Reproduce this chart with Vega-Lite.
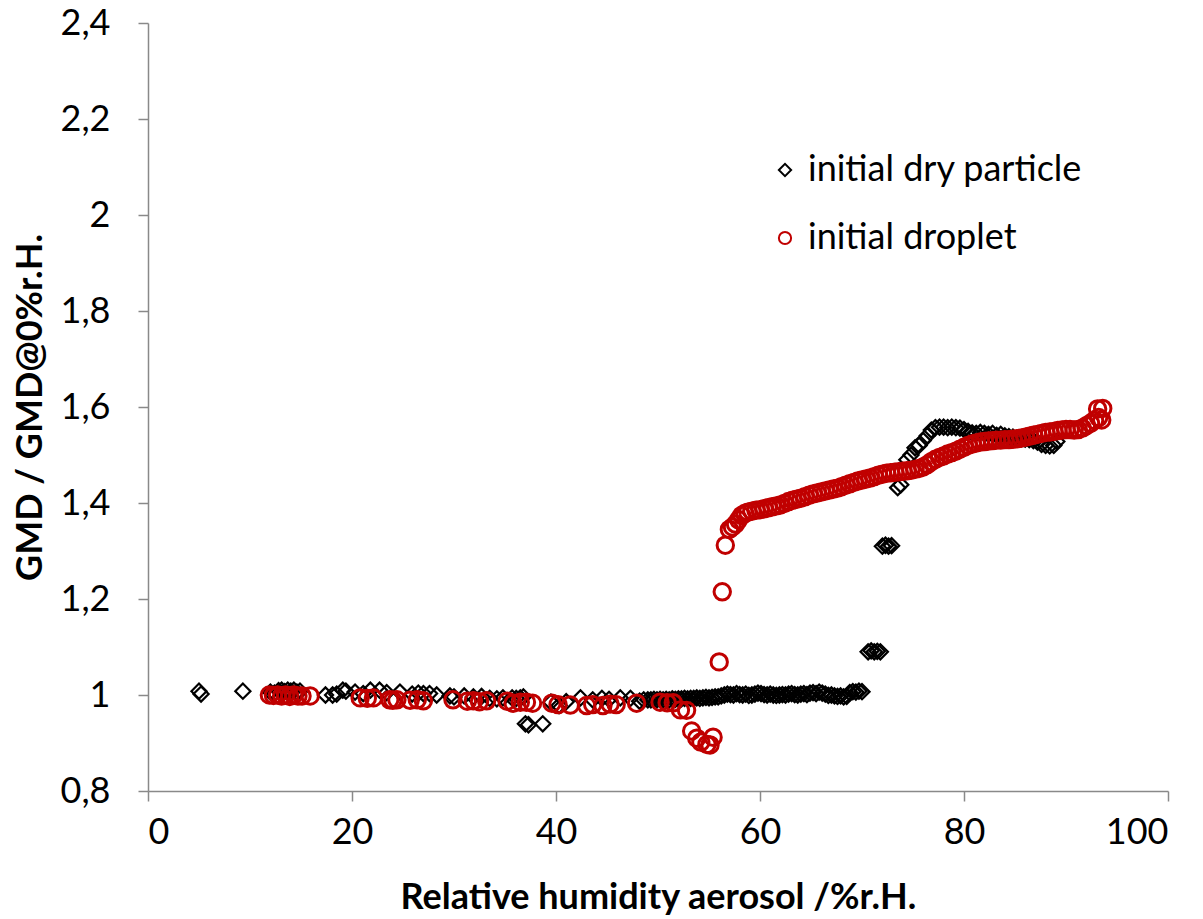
{
  "$schema": "https://vega.github.io/schema/vega-lite/v6.json",
  "width": 1020,
  "height": 768,
  "autosize": "none",
  "padding": {"left": 148, "top": 23, "right": 35, "bottom": 128},
  "background": "white",
  "config": {
    "view": {"stroke": null},
    "font": "Lato",
    "axis": {"grid": false, "domainColor": "#898989", "domainWidth": 1.5, "tickColor": "#898989", "tickWidth": 1.5, "tickSize": 10, "labelFont": "Lato", "labelFontSize": 36, "labelColor": "#000000", "titleFont": "Lato", "titleFontSize": 36, "titleFontWeight": "bold", "titleColor": "#000000"}
  },
  "datasets": {
    "dry": [
      [5.0,1.008],[5.2,1.002],[9.3,1.008],[12.0,1.006],[12.4,1.004],[12.8,1.009],[13.1,1.01],[13.4,1.007],[13.7,1.01],[14.0,1.008],[14.3,1.01],[14.6,1.006],[14.9,1.008],
      [17.4,1.0],[18.1,1.0],[18.5,1.002],[19.1,1.01],[19.4,1.008],[20.3,1.006],[21.1,1.003],[21.8,1.01],[22.7,1.01],[23.4,1.005],[24.7,1.006],[25.9,1.002],[26.5,1.004],[27.0,1.003],[27.6,1.003],[28.3,1.0],[29.6,0.998],[30.0,0.996],[31.0,0.998],[31.9,0.996],[32.7,0.997],[33.5,0.993],[34.2,0.992],[34.8,0.994],[35.7,0.994],[36.1,0.993],[36.5,0.994],[36.8,0.996],
      [37.0,0.94],[37.3,0.938],[38.7,0.94],[39.5,0.985],[40.3,0.978],[41.0,0.986],[42.4,0.994],[43.6,0.99],[44.5,0.993],[45.2,0.991],[46.3,0.994],[47.3,0.993],[48.2,0.987],[48.6,0.99],
      [49.0,0.99],[49.3,0.99],[49.6,0.991],[49.9,0.99],[50.2,0.991],[50.5,0.99],[50.8,0.991],[51.1,0.99],[51.4,0.992],[51.7,0.991],[52.0,0.992],[52.3,0.992],[52.6,0.993],[52.9,0.992],[53.2,0.993],[53.5,0.993],[53.8,0.994],[54.1,0.993],[54.4,0.994],[54.7,0.995],[55.0,0.994],[55.3,0.995],[55.6,0.996],[55.9,0.996],[56.2,0.998],[56.5,1.0],[56.8,1.002],[57.1,1.001],[57.4,1.0],[57.7,1.003],[58.0,1.001],[58.3,1.0],[58.6,1.002],[58.9,0.999],[59.2,1.0],[59.5,1.002],[59.8,1.004],[60.1,1.003],[60.4,1.001],[60.7,1.0],[61.0,1.002],[61.3,1.0],[61.6,0.999],[61.9,1.0],[62.2,1.001],[62.5,1.0],[62.8,1.002],[63.1,1.003],[63.4,1.001],[63.7,1.0],[64.0,1.002],[64.3,1.003],[64.6,1.001],[64.9,1.004],[65.2,1.005],[65.5,1.003],[65.8,1.006],[66.1,1.004],[66.4,1.002],[66.7,0.999],[67.0,1.0],[67.3,0.998],[67.6,0.997],[67.9,0.998],[68.2,0.996],[68.5,0.997],[68.8,1.005],[69.1,1.007],[69.4,1.006],[69.7,1.008],[70.0,1.007],
      [70.6,1.09],[70.9,1.092],[71.2,1.09],[71.5,1.091],[71.8,1.09],[72.0,1.31],[72.3,1.312],[72.6,1.31],[72.9,1.311],
      [73.5,1.432],[73.8,1.438],[74.4,1.49],[74.8,1.5],[75.2,1.515],[75.6,1.52],[76.0,1.53],[76.4,1.54],[76.8,1.552],[77.2,1.557],[77.6,1.558],[78.0,1.558],[78.4,1.557],[78.8,1.558],[79.2,1.557],[79.6,1.556],[80.0,1.553],[80.4,1.549],[80.8,1.546],[81.2,1.545],[81.6,1.547],[82.0,1.545],[82.4,1.543],[82.8,1.545],[83.2,1.541],[83.6,1.543],[84.0,1.54],[84.4,1.538],[84.8,1.537],[85.2,1.535],[85.6,1.534],[86.0,1.533],[86.4,1.532],[86.8,1.53],[87.2,1.527],[87.6,1.522],[88.0,1.52],[88.4,1.519],[88.8,1.52],[89.1,1.528]
    ],
    "drop": [
      [11.9,1.0],[12.3,0.999],[12.7,1.0],[13.1,0.998],[13.5,1.0],[13.9,0.997],[14.3,1.0],[14.7,0.998],[15.1,0.998],[15.9,0.998],[20.8,0.994],[21.5,0.993],[22.1,0.994],[23.7,0.99],[24.0,0.989],[24.4,0.99],[25.7,0.989],[26.4,0.99],[27.0,0.988],[29.9,0.99],[31.3,0.987],[31.9,0.988],[32.5,0.986],[33.2,0.988],[35.2,0.987],[35.8,0.983],[36.5,0.985],[37.1,0.985],[37.7,0.983],[39.6,0.983],[40.2,0.98],[41.4,0.979],[43.0,0.978],[43.6,0.98],[44.6,0.978],[45.3,0.981],[45.9,0.98],[47.9,0.983],[50.2,0.985],[50.9,0.984],[51.5,0.984],[52.2,0.969],[52.8,0.968],[53.3,0.925],[53.8,0.91],[54.2,0.902],[54.8,0.897],[55.1,0.896],[55.4,0.912],[56.0,1.069],[56.3,1.215],[56.6,1.312],
      [57.0,1.345],[57.3,1.35],[57.6,1.356],[57.9,1.365],[58.2,1.374],[58.5,1.378],[58.8,1.381],[59.2,1.383],[59.6,1.385],[60.0,1.386],[60.4,1.388],[60.8,1.39],[61.2,1.392],[61.6,1.394],[62.0,1.396],[62.4,1.399],[62.8,1.403],[63.2,1.406],[63.6,1.408],[64.0,1.41],[64.4,1.413],[64.8,1.416],[65.2,1.419],[65.6,1.421],[66.0,1.423],[66.4,1.425],[66.8,1.427],[67.2,1.429],[67.6,1.431],[68.0,1.434],[68.4,1.437],[68.8,1.44],[69.2,1.443],[69.6,1.446],[70.0,1.448],[70.4,1.45],[70.8,1.452],[71.2,1.455],[71.6,1.458],[72.0,1.46],[72.4,1.462],[72.8,1.463],[73.2,1.464],[73.6,1.465],[74.0,1.466],[74.4,1.467],[74.8,1.468],[75.2,1.47],[75.6,1.472],[76.0,1.475],[76.4,1.48],[76.8,1.486],[77.2,1.491],[77.6,1.495],[78.0,1.498],[78.4,1.502],[78.8,1.505],[79.2,1.508],[79.6,1.512],[80.0,1.516],[80.4,1.52],[80.8,1.523],[81.2,1.525],[81.6,1.527],[82.0,1.528],[82.4,1.529],[82.8,1.53],[83.2,1.531],[83.6,1.531],[84.0,1.532],[84.4,1.532],[84.8,1.533],[85.2,1.534],[85.6,1.535],[86.0,1.537],[86.4,1.539],[86.8,1.541],[87.2,1.543],[87.6,1.545],[88.0,1.547],[88.4,1.548],[88.8,1.549],[89.2,1.551],[89.6,1.552],[90.0,1.553],[90.4,1.553],[90.8,1.552],[91.2,1.553],[91.6,1.556],[92.0,1.561],[92.4,1.566],[92.8,1.572],[93.2,1.578],[93.5,1.573],[93.1,1.596],[93.6,1.597]
    ]
  },
  "layer": [
    {
      "data": {"name": "dry"},
      "transform": [
        {"calculate": "datum[0]", "as": "rh"},
        {"calculate": "datum[1]", "as": "gmd"},
        {"calculate": "'initial dry particle'", "as": "series"}
      ],
      "mark": {"type": "point", "filled": false, "shape": "diamond", "size": 230, "strokeWidth": 2.2, "opacity": 1},
      "encoding": {
        "x": {"field": "rh", "type": "quantitative", "scale": {"domain": [0, 100], "nice": false}, "axis": {"values": [0, 20, 40, 60, 80, 100], "title": "Relative humidity aerosol /%r.H.", "labelPadding": 14, "titlePadding": 30}},
        "y": {"field": "gmd", "type": "quantitative", "scale": {"domain": [0.8, 2.4], "nice": false, "zero": false}, "axis": {"values": [0.8, 1, 1.2, 1.4, 1.6, 1.8, 2, 2.2, 2.4], "format": ",.1~f", "labelExpr": "replace(datum.label, '.', ',')", "title": "GMD / GMD@0%r.H.", "labelPadding": 28, "titlePadding": 11}},
        "color": {"field": "series", "type": "nominal", "scale": {"domain": ["initial dry particle", "initial droplet"], "range": ["#000000", "#C00000"]}, "legend": {"orient": "none", "legendX": 619, "legendY": 129, "title": null, "labelFontSize": 36, "labelFont": "Lato", "labelColor": "#000000", "labelLimit": 0, "symbolSize": 150, "symbolStrokeWidth": 2, "labelOffset": 5, "rowPadding": 32, "padding": 0}},
        "shape": {"field": "series", "type": "nominal", "scale": {"domain": ["initial dry particle", "initial droplet"], "range": ["diamond", "circle"]}, "legend": {"orient": "none", "legendX": 619, "legendY": 129, "title": null, "labelFontSize": 36, "labelFont": "Lato", "labelColor": "#000000", "labelLimit": 0, "symbolSize": 150, "symbolStrokeWidth": 2, "labelOffset": 5, "rowPadding": 32, "padding": 0}}
      }
    },
    {
      "data": {"name": "drop"},
      "transform": [
        {"calculate": "datum[0]", "as": "rh"},
        {"calculate": "datum[1]", "as": "gmd"},
        {"calculate": "'initial droplet'", "as": "series"}
      ],
      "mark": {"type": "point", "filled": false, "shape": "circle", "size": 270, "strokeWidth": 3, "opacity": 1},
      "encoding": {
        "x": {"field": "rh", "type": "quantitative"},
        "y": {"field": "gmd", "type": "quantitative"},
        "color": {"field": "series", "type": "nominal"},
        "shape": {"field": "series", "type": "nominal"}
      }
    }
  ]
}
